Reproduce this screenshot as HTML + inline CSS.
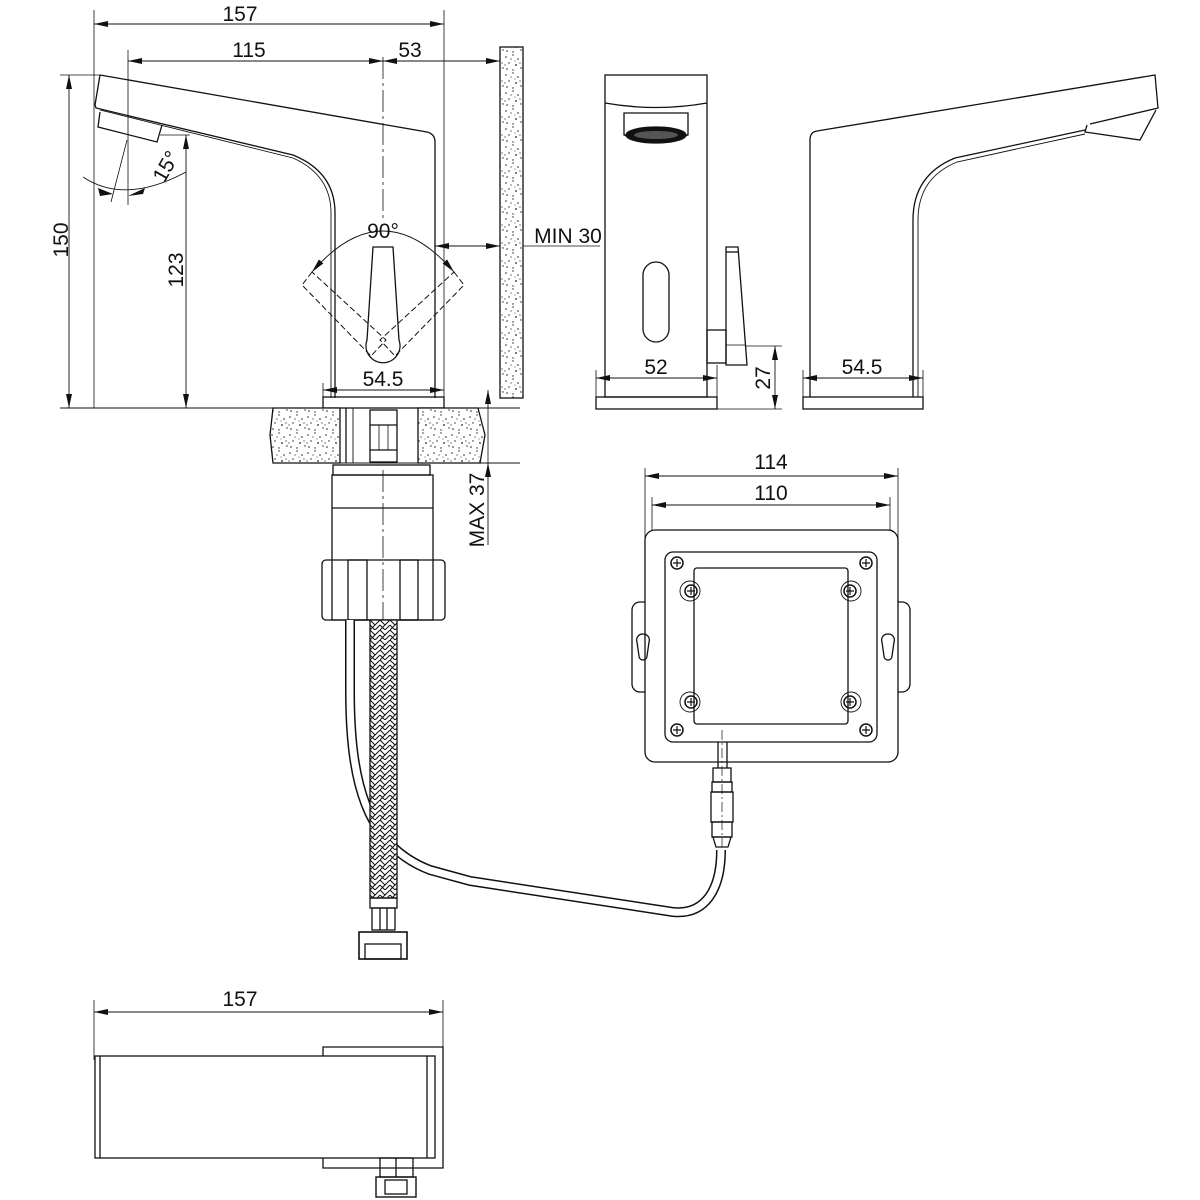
<!DOCTYPE html>
<html><head><meta charset="utf-8"><style>
html,body{margin:0;padding:0;background:#fff}
svg{display:block}
text{font-family:"Liberation Sans",sans-serif;font-size:21px;fill:#111}
</style></head><body>
<svg width="1200" height="1200" viewBox="0 0 1200 1200" xmlns="http://www.w3.org/2000/svg">
<defs>
<marker id="a" viewBox="0 0 14 6" refX="14" refY="3" markerWidth="14" markerHeight="6" orient="auto-start-reverse" markerUnits="userSpaceOnUse"><path d="M0,0 L14,3 L0,6z" fill="#111"/></marker>
<pattern id="sp" width="18" height="18" patternUnits="userSpaceOnUse">
<rect width="18" height="18" fill="#fff"/>
<g fill="#222"><circle cx="2" cy="3" r="0.8"/><circle cx="9" cy="1" r="0.7"/><circle cx="14" cy="5" r="0.8"/><circle cx="5" cy="9" r="0.7"/><circle cx="12" cy="11" r="0.9"/><circle cx="17" cy="14" r="0.7"/><circle cx="3" cy="15" r="0.8"/><circle cx="9" cy="16" r="0.7"/><circle cx="7" cy="5" r="0.6"/><circle cx="16" cy="9" r="0.6"/><circle cx="1" cy="11" r="0.6"/><circle cx="11" cy="7" r="0.5"/></g></pattern>
<pattern id="br" width="10" height="10" patternUnits="userSpaceOnUse">
<rect width="10" height="10" fill="#fff"/><path d="M0,0 L5,5 L10,0 M0,5 L5,10 L10,5 M0,10 L5,5" stroke="#111" stroke-width="1" fill="none"/></pattern>
</defs>
<g fill="none" stroke="#111" stroke-width="1.3">
<!-- top dims -->
<line x1="94" y1="10" x2="94" y2="408" stroke-width="0.8"/>
<line x1="444" y1="10" x2="444" y2="408" stroke-width="0.8"/>
<line x1="94" y1="24" x2="444" y2="24" stroke-width="0.9" marker-start="url(#a)" marker-end="url(#a)"/>
<line x1="128" y1="50" x2="128" y2="205" stroke-width="0.8"/>
<line x1="128" y1="61" x2="383" y2="61" stroke-width="0.9" marker-start="url(#a)" marker-end="url(#a)"/>
<line x1="383" y1="61" x2="500" y2="61" stroke-width="0.9" marker-start="url(#a)" marker-end="url(#a)"/>
<line x1="383" y1="57" x2="383" y2="220" stroke-width="0.8" stroke-dasharray="22,4,3,4"/>
<!-- spout side -->
<path d="M100,75 L427,132 Q435,134 435,142 L435,398"/>
<path d="M100,75 L95,105 L96,108 L293,155 Q335,172 335,213 L335,398"/>
<path d="M100,110 L293,158 Q331,175 331,213 L331,398" stroke-width="0.9"/>
<path d="M100,112 L98,127 L157,142 L162,125"/>
<!-- 150 / 123 -->
<line x1="60" y1="75" x2="100" y2="75" stroke-width="0.8"/>
<line x1="69" y1="75" x2="69" y2="408" stroke-width="0.9" marker-start="url(#a)" marker-end="url(#a)"/>
<line x1="160" y1="135" x2="190" y2="135" stroke-width="0.8"/>
<line x1="186" y1="135" x2="186" y2="408" stroke-width="0.9" marker-start="url(#a)" marker-end="url(#a)"/>
<line x1="60" y1="408" x2="520" y2="408" stroke-width="0.9"/>
<!-- 15 deg -->
<line x1="127" y1="140" x2="111" y2="202" stroke-width="0.8"/>
<path d="M83,177 Q125,205 186,172" stroke-width="0.9"/>
<path d="M98,188 L113,194 L100,196z M128,196 L145,188 L143,194z" fill="#111" stroke="none"/>
<!-- handle -->
<path d="M373,247 L393,247 L399,340 A17,17 0 1 1 367,340 Z"/>
<g stroke-dasharray="6,3" stroke-width="1">
<path d="M312,272 L302,285 L371,356 L386,340 Z"/>
<path d="M454,272 L464,285 L395,356 L380,340 Z"/>
</g>
<path d="M312,272 Q383,190 454,272" stroke-width="0.9" marker-start="url(#a)" marker-end="url(#a)"/>
<!-- MIN 30 -->
<line x1="435" y1="246" x2="500" y2="246" stroke-width="0.9" marker-start="url(#a)" marker-end="url(#a)"/>
<line x1="500" y1="246" x2="600" y2="246" stroke-width="0.8"/>
<!-- base & 54.5 -->
<rect x="323" y="397" width="121" height="11"/>
<line x1="323" y1="383" x2="323" y2="397" stroke-width="0.8"/>
<line x1="323" y1="390" x2="444" y2="390" stroke-width="0.9" marker-start="url(#a)" marker-end="url(#a)"/>
<!-- wall -->
<rect x="500" y="47" width="23" height="351" fill="url(#sp)"/>
<!-- countertop -->
<path d="M273,408 L340,408 L340,463 L273,463 L270,435 Z" fill="url(#sp)"/>
<path d="M418,408 L478,408 L485,435 L480,463 L418,463 Z" fill="url(#sp)"/>
<line x1="346" y1="408" x2="346" y2="463"/><line x1="353" y1="408" x2="353" y2="463" stroke-width="0.9"/>
<rect x="370" y="410" width="27" height="52"/>
<line x1="370" y1="425" x2="397" y2="425"/><line x1="370" y1="450" x2="397" y2="450"/>
<line x1="379" y1="425" x2="379" y2="450" stroke-width="0.8"/><line x1="388" y1="425" x2="388" y2="450" stroke-width="0.8"/>
<line x1="340" y1="463" x2="520" y2="463" stroke-width="0.9"/>
<line x1="488" y1="390" x2="488" y2="408" stroke-width="0.9" marker-start="url(#a)"/>
<line x1="488" y1="408" x2="488" y2="463" stroke-width="0.8"/>
<line x1="488" y1="463" x2="488" y2="545" stroke-width="0.9" marker-start="url(#a)"/>
<!-- body under -->
<rect x="333" y="465" width="97" height="10"/>
<rect x="332" y="475" width="101" height="145"/>
<line x1="332" y1="508" x2="433" y2="508"/>
<rect x="322" y="560" width="123" height="60" rx="4"/>
<rect x="348" y="560" width="19" height="60"/><rect x="400" y="560" width="18" height="60"/>
<line x1="383" y1="470" x2="383" y2="620" stroke-width="0.8" stroke-dasharray="22,4,3,4"/>
<!-- cable -->
<path d="M350,620 L350,690 C350,780 365,845 430,870 L470,881 L673,912 C705,915 721,890 721,850" stroke-width="10"/>
<path d="M350,620 L350,690 C350,780 365,845 430,870 L470,881 L673,912 C705,915 721,890 721,850" stroke="#fff" stroke-width="7"/>
<!-- hose -->
<rect x="370" y="620" width="27" height="278" fill="url(#br)"/>
<rect x="370" y="898" width="27" height="10"/>
<rect x="372" y="908" width="23" height="22"/>
<line x1="380" y1="908" x2="380" y2="930"/><line x1="387" y1="908" x2="387" y2="930"/>
<rect x="359" y="932" width="48" height="27" stroke-width="1.6"/>
<rect x="365" y="944" width="36" height="15"/>
<!-- front view -->
<rect x="605" y="75" width="102" height="322"/>
<path d="M605,103 Q656,112 707,103"/>
<path d="M624,113 L688,113 L688,135 Q656,145 624,135 Z"/>
<ellipse cx="656" cy="135" rx="30" ry="8" fill="#111"/>
<ellipse cx="656" cy="135" rx="22" ry="4" fill="#555" stroke="none"/>
<rect x="643" y="262" width="26" height="80" rx="13"/>
<rect x="596" y="397" width="121" height="12"/>
<path d="M726,247 L738,247 L747,365 L726,365 Z"/>
<line x1="726" y1="252" x2="738" y2="252"/>
<rect x="707" y="330" width="19" height="33"/>
<line x1="726" y1="345" x2="746" y2="345" stroke-width="0.8"/>
<line x1="596" y1="370" x2="596" y2="397" stroke-width="0.8"/><line x1="717" y1="365" x2="717" y2="397" stroke-width="0.8"/>
<line x1="596" y1="378" x2="717" y2="378" stroke-width="0.9" marker-start="url(#a)" marker-end="url(#a)"/>
<line x1="746" y1="346" x2="782" y2="346" stroke-width="0.8"/><line x1="717" y1="409" x2="782" y2="409" stroke-width="0.8"/>
<line x1="775" y1="346" x2="775" y2="409" stroke-width="0.9" marker-start="url(#a)" marker-end="url(#a)"/>
<!-- right view -->
<path d="M810,397 L810,140 Q810,132 817,131 L1155,75 L1158,108 L1090,124"/>
<path d="M1087,125 L1085,132 L1140,140 L1156,110"/>
<path d="M1085,130 L955,158 Q913,175 913,220 L913,397"/>
<path d="M1085,134 L957,162 Q918,178 918,220 L918,397" stroke-width="0.9"/>
<rect x="803" y="397" width="120" height="12"/>
<line x1="803" y1="370" x2="803" y2="397" stroke-width="0.8"/><line x1="923" y1="370" x2="923" y2="397" stroke-width="0.8"/>
<line x1="803" y1="378" x2="923" y2="378" stroke-width="0.9" marker-start="url(#a)" marker-end="url(#a)"/>
<!-- box dims -->
<line x1="645" y1="468" x2="645" y2="660" stroke-width="0.8"/><line x1="898" y1="468" x2="898" y2="660" stroke-width="0.8"/>
<line x1="652" y1="497" x2="652" y2="670" stroke-width="0.8"/><line x1="890" y1="497" x2="890" y2="670" stroke-width="0.8"/>
<line x1="645" y1="476" x2="898" y2="476" stroke-width="0.9" marker-start="url(#a)" marker-end="url(#a)"/>
<line x1="652" y1="505" x2="890" y2="505" stroke-width="0.9" marker-start="url(#a)" marker-end="url(#a)"/>
<!-- box -->
<rect x="632" y="602" width="40" height="90" rx="8" fill="#fff"/>
<rect x="871" y="602" width="39" height="90" rx="8" fill="#fff"/>
<rect x="645" y="530" width="253" height="232" rx="10" fill="#fff"/>
<rect x="665" y="552" width="212" height="190" rx="8"/>
<rect x="694" y="568" width="154" height="156" rx="3"/>
<path d="M649,634 a6,6 0 0 1 6,8 l-2,14 a4,4 0 0 1 -8,0 l-2,-14 a6,6 0 0 1 6,-8z" transform="translate(-6,0)"/>
<path d="M894,634 a6,6 0 0 1 6,8 l-2,14 a4,4 0 0 1 -8,0 l-2,-14 a6,6 0 0 1 6,-8z" transform="translate(-6,0)"/>
<g stroke-width="1.5">
<circle cx="677" cy="563" r="6"/><circle cx="866" cy="563" r="6"/><circle cx="677" cy="730" r="6"/><circle cx="866" cy="730" r="6"/>
<circle cx="691" cy="591" r="6"/><circle cx="850" cy="591" r="6"/><circle cx="691" cy="702" r="6"/><circle cx="850" cy="702" r="6"/>
</g>
<circle cx="690" cy="591" r="10" stroke-width="0.9"/><circle cx="851" cy="591" r="10" stroke-width="0.9"/><circle cx="690" cy="702" r="10" stroke-width="0.9"/><circle cx="851" cy="702" r="10" stroke-width="0.9"/>
<path d="M673,563h8M677,559v8M862,563h8M866,559v8M673,730h8M677,726v8M862,730h8M866,726v8M687,591h8M691,587v8M846,591h8M850,587v8M687,702h8M691,698v8M846,702h8M850,698v8" stroke-width="1.2"/>
<line x1="718" y1="742" x2="718" y2="768"/><line x1="727" y1="742" x2="727" y2="768"/>
<rect x="713" y="768" width="18" height="14"/>
<rect x="712" y="782" width="20" height="10"/>
<rect x="711" y="792" width="22" height="30"/>
<rect x="712" y="822" width="20" height="15"/>
<path d="M713,837 L731,837 L728,847 L716,847 Z"/>
<line x1="722" y1="730" x2="722" y2="847" stroke-width="0.7" stroke-dasharray="10,3,2,3"/>
<!-- bottom plan -->
<line x1="94" y1="1000" x2="94" y2="1060" stroke-width="0.8"/><line x1="443" y1="1000" x2="443" y2="1047" stroke-width="0.8"/>
<line x1="94" y1="1012" x2="443" y2="1012" stroke-width="0.9" marker-start="url(#a)" marker-end="url(#a)"/>
<path d="M323,1056 L323,1047 L443,1047 L443,1168 L323,1168 L323,1158"/>
<rect x="95" y="1056" width="340" height="102"/>
<line x1="100" y1="1056" x2="100" y2="1158"/><line x1="427" y1="1056" x2="427" y2="1158"/>
<rect x="380" y="1158" width="33" height="19"/><line x1="396" y1="1158" x2="396" y2="1177"/>
<rect x="376" y="1177" width="40" height="20" stroke-width="1.4"/>
<rect x="385" y="1180" width="22" height="14"/>
</g>
<text x="240" y="21" text-anchor="middle">157</text>
<text x="249" y="57" text-anchor="middle">115</text>
<text x="410" y="57" text-anchor="middle">53</text>
<text x="383" y="238" text-anchor="middle">90°</text>
<text x="568" y="243" text-anchor="middle">MIN 30</text>
<text x="383" y="386" text-anchor="middle">54.5</text>
<text x="656" y="374" text-anchor="middle">52</text>
<text x="862" y="374" text-anchor="middle">54.5</text>
<text x="771" y="469" text-anchor="middle">114</text>
<text x="771" y="500" text-anchor="middle">110</text>
<text x="240" y="1006" text-anchor="middle">157</text>
<text transform="translate(68,240) rotate(-90)" text-anchor="middle">150</text>
<text transform="translate(183,270) rotate(-90)" text-anchor="middle">123</text>
<text transform="translate(484,510) rotate(-90)" text-anchor="middle">MAX 37</text>
<text transform="translate(770,378) rotate(-90)" text-anchor="middle">27</text>
<text transform="translate(172,170) rotate(-60)" text-anchor="middle">15°</text>
</svg>
</body></html>
